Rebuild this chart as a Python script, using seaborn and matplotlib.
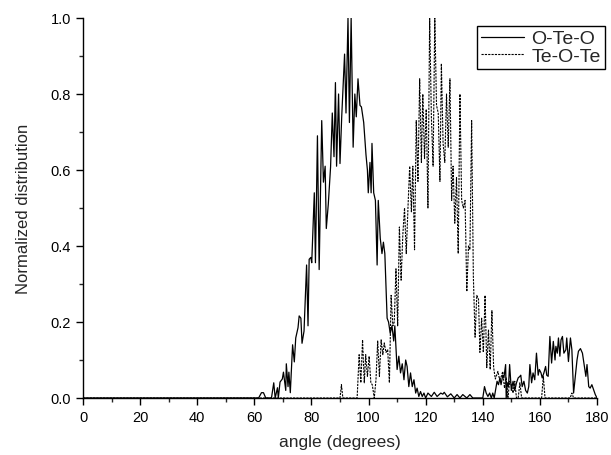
import numpy as np
import pandas as pd
import matplotlib
matplotlib.use("Agg")
import matplotlib.pyplot as plt
import seaborn as sns

# O-Te-O bond angle distribution
oteo_angle = [0, 61.5, 62.5, 63.2, 64, 66, 66.4, 66.8, 67.3, 68.1, 68.4, 69, 69.8, 70.2, 71, 71.2,
              71.8, 72.1, 72.6, 73.4, 74, 74.5, 75.3, 75.7, 76.3, 76.7, 77.4, 78.3, 78.8, 79.2,
              79.8, 80.1, 81, 81.4, 82.1, 82.7, 83.6, 84.2, 84.8, 85.2, 85.9, 86.7, 87.3, 87.9,
              88.4, 88.8, 89.5, 90, 90.6, 91.6, 92.1, 92.8, 93.3, 93.9, 94.6, 95.2, 95.7, 96.3,
              97, 97.5, 98.3, 99.1, 99.6, 99.9, 100.5, 100.9, 101.2, 101.8, 102.4, 103, 103.4,
              104.1, 104.7, 105.2, 105.7, 106.5, 107, 107.6, 108.2, 108.8, 109.2, 110, 110.6,
              111.2, 111.8, 112.4, 113, 113.5, 114.1, 114.7, 115.3, 115.9, 116.5, 117, 117.6,
              118.2, 118.8, 119.4, 120, 120.8, 122, 123, 124, 125.3, 126, 126.5, 127.6, 128.8,
              130, 131, 132, 133, 134.4, 135.5, 136.5, 138, 140, 140.6, 141.2, 141.8, 142.4,
              143, 143.5, 144, 144.7, 145, 145.5, 146, 146.4, 147, 147.4, 148, 148.2, 148.6,
              149, 149.4, 150, 150.6, 151.2, 151.8, 152.4, 153, 153.3, 153.8, 154.4, 155, 155.6,
              156.1, 156.5, 157.1, 157.6, 158.2, 158.8, 159.4, 159.8, 160.4, 160.8, 161.4, 162,
              162.4, 162.9, 163.5, 164.1, 164.7, 165.3, 165.6, 166.1, 166.5, 167, 167.4, 167.9,
              168.4, 169.1, 169.4, 170, 170.7, 171.2, 171.8, 172.4, 173, 173.5, 174.2, 174.9,
              175.6, 176.1, 176.5, 177.1, 177.6, 178.2, 178.8, 179.4, 180]
oteo_value = [0, 0, 0.014, 0.014, 0, 0, 0.02, 0.04, 0, 0.027, 0, 0.042, 0.05, 0.068, 0.02, 0.09,
              0.03, 0.068, 0.014, 0.14, 0.095, 0.158, 0.185, 0.216, 0.21, 0.144, 0.176, 0.35, 0.19,
              0.365, 0.37, 0.356, 0.54, 0.356, 0.69, 0.338, 0.73, 0.568, 0.61, 0.446, 0.51, 0.608,
              0.75, 0.635, 0.83, 0.61, 0.80, 0.617, 0.74, 0.905, 0.75, 1.0, 0.725, 1.0, 0.66, 0.80,
              0.74, 0.84, 0.77, 0.766, 0.725, 0.64, 0.60, 0.54, 0.62, 0.54, 0.67, 0.54, 0.52, 0.35,
              0.52, 0.42, 0.38, 0.41, 0.38, 0.21, 0.20, 0.17, 0.19, 0.15, 0.19, 0.075, 0.11, 0.066,
              0.09, 0.048, 0.10, 0.083, 0.03, 0.066, 0.03, 0.048, 0.013, 0.026, 0.004, 0.017,
              0.004, 0.013, 0, 0.013, 0.004, 0.015, 0.004, 0.013, 0.01, 0.015, 0.003, 0.011, 0,
              0.009, 0, 0.009, 0, 0.009, 0, 0, 0, 0.03, 0.013, 0.004, 0.013, 0, 0.013, 0, 0.03,
              0.044, 0.035, 0.053, 0.035, 0.06, 0.053, 0.088, 0, 0.04, 0.03, 0.088, 0.02, 0.044,
              0.02, 0.04, 0.053, 0.057, 0.06, 0.03, 0.044, 0.02, 0.013, 0.03, 0.088, 0.04, 0.066,
              0.048, 0.118, 0.06, 0.075, 0.066, 0.053, 0.066, 0.083, 0.06, 0.057, 0.162, 0.092,
              0.149, 0.10, 0.136, 0.118, 0.158, 0.11, 0.153, 0.162, 0.118, 0.127, 0.158, 0.096,
              0.158, 0.127, 0.013, 0.057, 0.10, 0.123, 0.13, 0.118, 0.083, 0.057, 0.088, 0.03,
              0.026, 0.035, 0.022, 0.009, 0]

# Te-O-Te bond angle distribution
teot_angle = [0, 90, 90.5, 91, 96, 96.7, 97.3, 97.9, 98.5, 99, 99.6, 100.2, 100.8, 101.3, 102,
              102.6, 103.2, 103.8, 104.4, 105, 105.5, 106.1, 106.7, 107.3, 107.9, 108.5, 109,
              109.6, 110.2, 110.8, 111.4, 112, 112.6, 113.2, 113.8, 114.4, 115, 115.5, 116.1,
              116.7, 117.3, 117.9, 118.5, 119, 119.6, 120.2, 120.8, 121.4, 122, 122.6, 123.2,
              123.8, 124.4, 125, 125.5, 126.1, 126.7, 127.3, 127.9, 128.5, 129.1, 129.6, 130.2,
              130.8, 131.4, 132, 132.6, 133.2, 133.8, 134.4, 135, 135.5, 136.1, 136.7, 137.3,
              137.9, 138.5, 139, 139.6, 140.2, 140.8, 141.4, 142, 142.6, 143.2, 143.8, 144.4,
              145.3, 145.9, 146.5, 147, 147.6, 148.2, 148.8, 149.4, 150, 150.6, 151.2, 151.8,
              152.4, 153, 153.6, 160.6, 161.2, 161.8, 170.6, 171.2, 171.8, 180]
teot_value = [0, 0, 0.035, 0, 0, 0.114, 0.04, 0.153, 0.04, 0.114, 0.057, 0.11, 0.04, 0.035, 0,
              0.048, 0.15, 0.057, 0.153, 0.114, 0.145, 0.12, 0.127, 0.04, 0.27, 0.19, 0.20, 0.34,
              0.19, 0.45, 0.31, 0.43, 0.50, 0.38, 0.50, 0.61, 0.49, 0.61, 0.39, 0.73, 0.57, 0.84,
              0.62, 0.80, 0.63, 0.76, 0.50, 1.0, 0.74, 0.61, 1.0, 0.77, 0.75, 0.57, 0.88, 0.67,
              0.62, 0.80, 0.66, 0.84, 0.52, 0.61, 0.46, 0.58, 0.38, 0.80, 0.52, 0.50, 0.52, 0.28,
              0.40, 0.39, 0.73, 0.32, 0.16, 0.27, 0.26, 0.12, 0.21, 0.12, 0.27, 0.08, 0.18, 0.075,
              0.23, 0.08, 0.05, 0.07, 0.048, 0.057, 0.07, 0.026, 0.053, 0, 0.044, 0.035, 0.013,
              0.044, 0, 0, 0.04, 0, 0, 0.057, 0, 0, 0.013, 0, 0]

sns.set_style("ticks")
plt.rcParams['font.family'] = ['Liberation Sans', 'DejaVu Sans']

oteo = pd.DataFrame({'angle': oteo_angle, 'value': oteo_value})
teot = pd.DataFrame({'angle': teot_angle, 'value': teot_value})

fig = plt.figure(figsize=(6.11, 4.56), dpi=100)
ax = fig.add_axes([83 / 611, 57 / 456, 514 / 611, 380 / 456])

sns.lineplot(data=oteo, x='angle', y='value', ax=ax, color='black', lw=0.9,
             sort=False, estimator=None, label='O-Te-O')
sns.lineplot(data=teot, x='angle', y='value', ax=ax, color='black', lw=0.8,
             linestyle=(0, (2, 1)), sort=False, estimator=None, label='Te-O-Te')

ax.set_xlim(0, 180)
ax.set_ylim(0, 1.0)
ax.set_xticks(np.arange(0, 181, 20))
ax.set_xticks(np.arange(0, 181, 10), minor=True)
ax.set_yticks(np.arange(0, 1.01, 0.2))
ax.set_yticks(np.arange(0, 1.01, 0.1), minor=True)
ax.yaxis.set_major_formatter(matplotlib.ticker.FormatStrFormatter('%.1f'))
ax.tick_params(which='major', direction='out', length=5, width=1, labelsize=10.5, colors='black')
ax.tick_params(which='minor', direction='out', length=3, width=1)
for s in ['top', 'right']:
    ax.spines[s].set_visible(False)
for s in ['left', 'bottom']:
    ax.spines[s].set_linewidth(1)
    ax.spines[s].set_color('black')

ax.set_xlabel('angle (degrees)', fontsize=12.5, labelpad=7)
ax.set_ylabel('Normalized distribution', fontsize=12, labelpad=14)

leg = ax.legend(loc='upper left', bbox_to_anchor=(0.7665, 0.979), fontsize=14,
                frameon=True, fancybox=False, borderaxespad=0, handlelength=2.2,
                handletextpad=0.4, borderpad=0.2, labelspacing=0.0)
leg.get_frame().set_edgecolor('black')
leg.get_frame().set_linewidth(1)
leg.get_frame().set_alpha(1)

fig.savefig('out.png', dpi=100)
